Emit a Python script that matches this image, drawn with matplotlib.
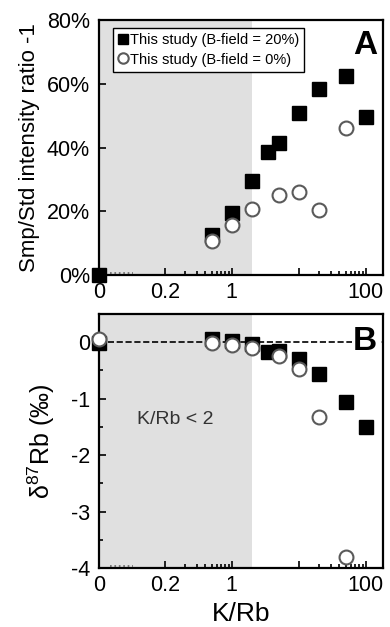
import matplotlib
matplotlib.use("Agg")
import matplotlib.pyplot as plt
import matplotlib.transforms as mtransforms
import numpy as np

plt.rcParams['font.family'] = ['Liberation Sans', 'DejaVu Sans']
plt.rcParams['mathtext.default'] = 'regular'

# K/Rb ratio (0 is drawn at the left edge of the log axis)
krb = np.array([0, 0.5, 1, 2, 3.5, 5, 10, 20, 50, 100])

# panel A: Smp/Std intensity ratio - 1
int_b20 = np.array([0.0, 0.125, 0.195, 0.295, 0.386, 0.414, 0.508, 0.583, 0.624, 0.495])
int_b0_x = np.array([0.5, 1, 2, 5, 10, 20, 50])
int_b0 = np.array([0.107, 0.157, 0.207, 0.251, 0.26, 0.204, 0.461])

# panel B: d87Rb (permil)
d_b20 = np.array([-0.02, 0.05, 0.02, -0.03, -0.17, -0.15, -0.29, -0.57, -1.05, -1.51])
d_b0_x = np.array([0, 0.5, 1, 2, 5, 10, 20, 50])
d_b0 = np.array([0.06, -0.02, -0.04, -0.11, -0.25, -0.48, -1.33, -3.8])

xmin, xmax = 0.0105, 180
tick_pos = [xmin, 0.1, 1, 10, 100]
tick_lab = ['0', '0.2', '1', '', '100']
minor_pos = [0.2, 0.3, 0.4, 0.5, 0.6, 0.7, 0.8, 0.9, 20, 30, 40, 50, 60, 70, 80, 90]

def px(x):
    x = np.asarray(x, dtype=float)
    return np.where(x == 0, xmin, x)

fig = plt.figure(figsize=(3.9, 6.27), dpi=100)
axA = fig.add_axes([0.254, 0.5614, 0.728, 0.4067])
axB = fig.add_axes([0.254, 0.0941, 0.728, 0.405])

sq = dict(marker='s', ls='none', ms=10.5, mfc='black', mec='black', clip_on=False, zorder=3)
ci = dict(marker='o', ls='none', ms=10, mfc='white', mec='#5a5a5a', mew=1.5, clip_on=False, zorder=4)

for ax in (axA, axB):
    ax.set_xscale('log')
    ax.set_xlim(xmin, xmax)
    ax.axvspan(xmin, 2, color='#e0e0e0', lw=0, zorder=0)
    ax.set_xticks(tick_pos)
    ax.set_xticklabels(tick_lab)
    ax.set_xticks(minor_pos, minor=True)
    ax.xaxis.set_minor_formatter(matplotlib.ticker.NullFormatter())
    ax.tick_params(which='both', direction='in', top=False, right=False,
                   labelsize=15.5, width=1.2)
    ax.tick_params(axis='y', which='both', pad=6.5)
    ax.tick_params(axis='x', which='both', pad=5)
    ax.tick_params(which='major', length=5)
    ax.tick_params(which='minor', length=3)
    for s in ax.spines.values():
        s.set_linewidth(1.6)
    trans = mtransforms.blended_transform_factory(ax.transAxes, ax.transAxes)
    ax.plot([0.04, 0.12], [0.008, 0.008], ls=':', color='#666666', lw=1.2, transform=trans)

# panel A
axA.plot(px(krb), int_b20, label='This study (B-field = 20%)', **sq)
axA.plot(px(int_b0_x), int_b0, label='This study (B-field = 0%)', **ci)
axA.set_ylim(0, 0.8)
axA.set_yticks([0, 0.2, 0.4, 0.6, 0.8])
axA.set_yticklabels(['0%', '20%', '40%', '60%', '80%'])
axA.set_ylabel('Smp/Std intensity ratio -1', fontsize=16, labelpad=5)
axA.text(0.98, 0.96, 'A', transform=axA.transAxes, ha='right', va='top',
         fontsize=24, fontweight='bold')
leg = axA.legend(loc='upper left', bbox_to_anchor=(0.05, 0.97), fontsize=10.5,
                 frameon=True, fancybox=False, edgecolor='black', framealpha=1,
                 handlelength=0.6, handletextpad=0.2, borderpad=0.35,
                 labelspacing=0.4, markerscale=0.75, borderaxespad=0)
leg.get_frame().set_linewidth(1.0)

# panel B
axB.axhline(0, color='black', ls='--', lw=1.2, zorder=2)
axB.plot(px(krb), d_b20, **sq)
axB.plot(px(d_b0_x), d_b0, **ci)
axB.set_ylim(-4, 0.5)
axB.set_yticks([-4, -3, -2, -1, 0])
axB.set_yticklabels(['-4', '-3', '-2', '-1', '0'])
axB.set_yticks([-3.5, -2.5, -1.5, -0.5], minor=True)
axB.set_ylabel('δ$^{87}$Rb (‰)', fontsize=18, labelpad=10)
axB.set_xlabel('K/Rb', fontsize=19, labelpad=4.5)
axB.text(0.98, 0.89, 'B', transform=axB.transAxes, ha='right', va='center',
         fontsize=24, fontweight='bold', zorder=5,
         bbox=dict(facecolor='white', edgecolor='none', pad=1))
axB.text(0.27, 0.585, 'K/Rb < 2', transform=axB.transAxes, ha='center', va='center',
         fontsize=14, color='#333333')

fig.savefig('out.png', dpi=100)
